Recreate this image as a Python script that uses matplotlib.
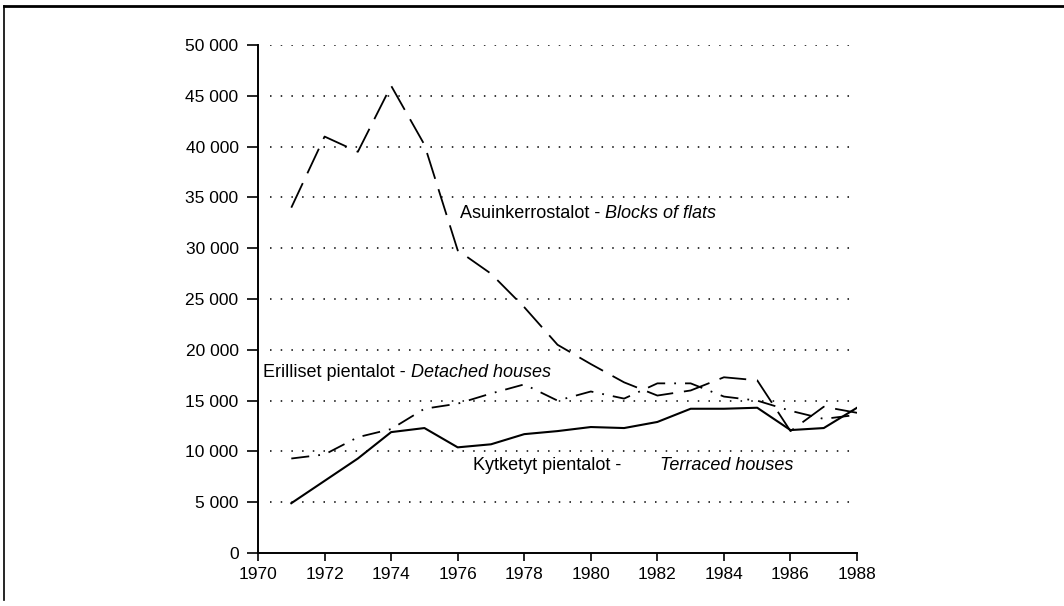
import numpy as np
import matplotlib.pyplot as plt
from matplotlib.lines import Line2D

plt.rcParams['font.family'] = ['Liberation Sans', 'DejaVu Sans']

years = list(range(1971, 1989))
flats = [34000, 41000, 39500, 46000, 40200, 29800, 27500, 24200, 20500,
         18600, 16800, 15500, 16000, 17300, 17000, 12000, 14400, 13800]
detached = [9300, 9700, 11400, 12200, 14200, 14700, 15700, 16600, 15000,
            15900, 15200, 16700, 16700, 15400, 15000, 14000, 13200, 13600]
terraced = [4900, 7100, 9300, 11900, 12300, 10400, 10700, 11700, 12000,
            12400, 12300, 12900, 14200, 14200, 14300, 12100, 12300, 14300]

yticks = list(range(0, 50001, 5000))
ytick_labels = ["0"] + ["{:,}".format(v).replace(",", " ") for v in yticks[1:]]
xticks = list(range(1970, 1989, 2))

fig = plt.figure(figsize=(10.64, 6.06), dpi=100)
ax = fig.add_axes([0.2425, 0.0875, 0.563, 0.838])

# dotted grid lines
for v in yticks[1:]:
    ax.hlines(v, 1970.35, 1988, colors="black", linestyles=(0, (1, 6)), linewidth=1.1)

ax.plot(years, flats, color="black", linewidth=1.3, dashes=(15, 6))
ax.plot(years, detached, color="black", linewidth=1.3, dashes=(10, 5, 1, 5))
ax.plot(years, terraced, color="black", linewidth=1.5)

ax.set_xlim(1970, 1988)
ax.set_ylim(0, 50000)
ax.set_yticks(yticks)
ax.set_yticklabels(ytick_labels)
ax.set_xticks(xticks)
ax.tick_params(axis="y", direction="out", length=8, width=1.2, labelsize=12.5, pad=6)
ax.tick_params(axis="x", direction="out", length=6, width=1.2, labelsize=12.5, pad=4)
for s in ["top", "right"]:
    ax.spines[s].set_visible(False)
for s in ["left", "bottom"]:
    ax.spines[s].set_linewidth(1.4)

# series labels: Finnish normal + English italic
FS = 13


def label(x, y, fi, en, x_en=None):
    t = ax.text(x, y, fi + " - ", fontsize=FS, va="center", ha="left")
    if x_en is None:
        ax.annotate(en, xy=(1, 0.5), xycoords=t, va="center", ha="left",
                    fontsize=FS, style="italic")
    else:
        ax.text(x_en, y, en, fontsize=FS, va="center", ha="left", style="italic")


label(1976.07, 33470, "Asuinkerrostalot", "Blocks of flats")
label(1970.15, 17800, "Erilliset pientalot", "Detached houses")
label(1976.46, 8660, "Kytketyt pientalot", "Terraced houses", x_en=1982.08)

# frame (top and left edges)
fig.add_artist(Line2D([0.004, 1.0], [0.99, 0.99], color="black", linewidth=2))
fig.add_artist(Line2D([0.004, 0.004], [0.01, 0.99], color="black", linewidth=1.2))

fig.savefig("out.png", dpi=100)
